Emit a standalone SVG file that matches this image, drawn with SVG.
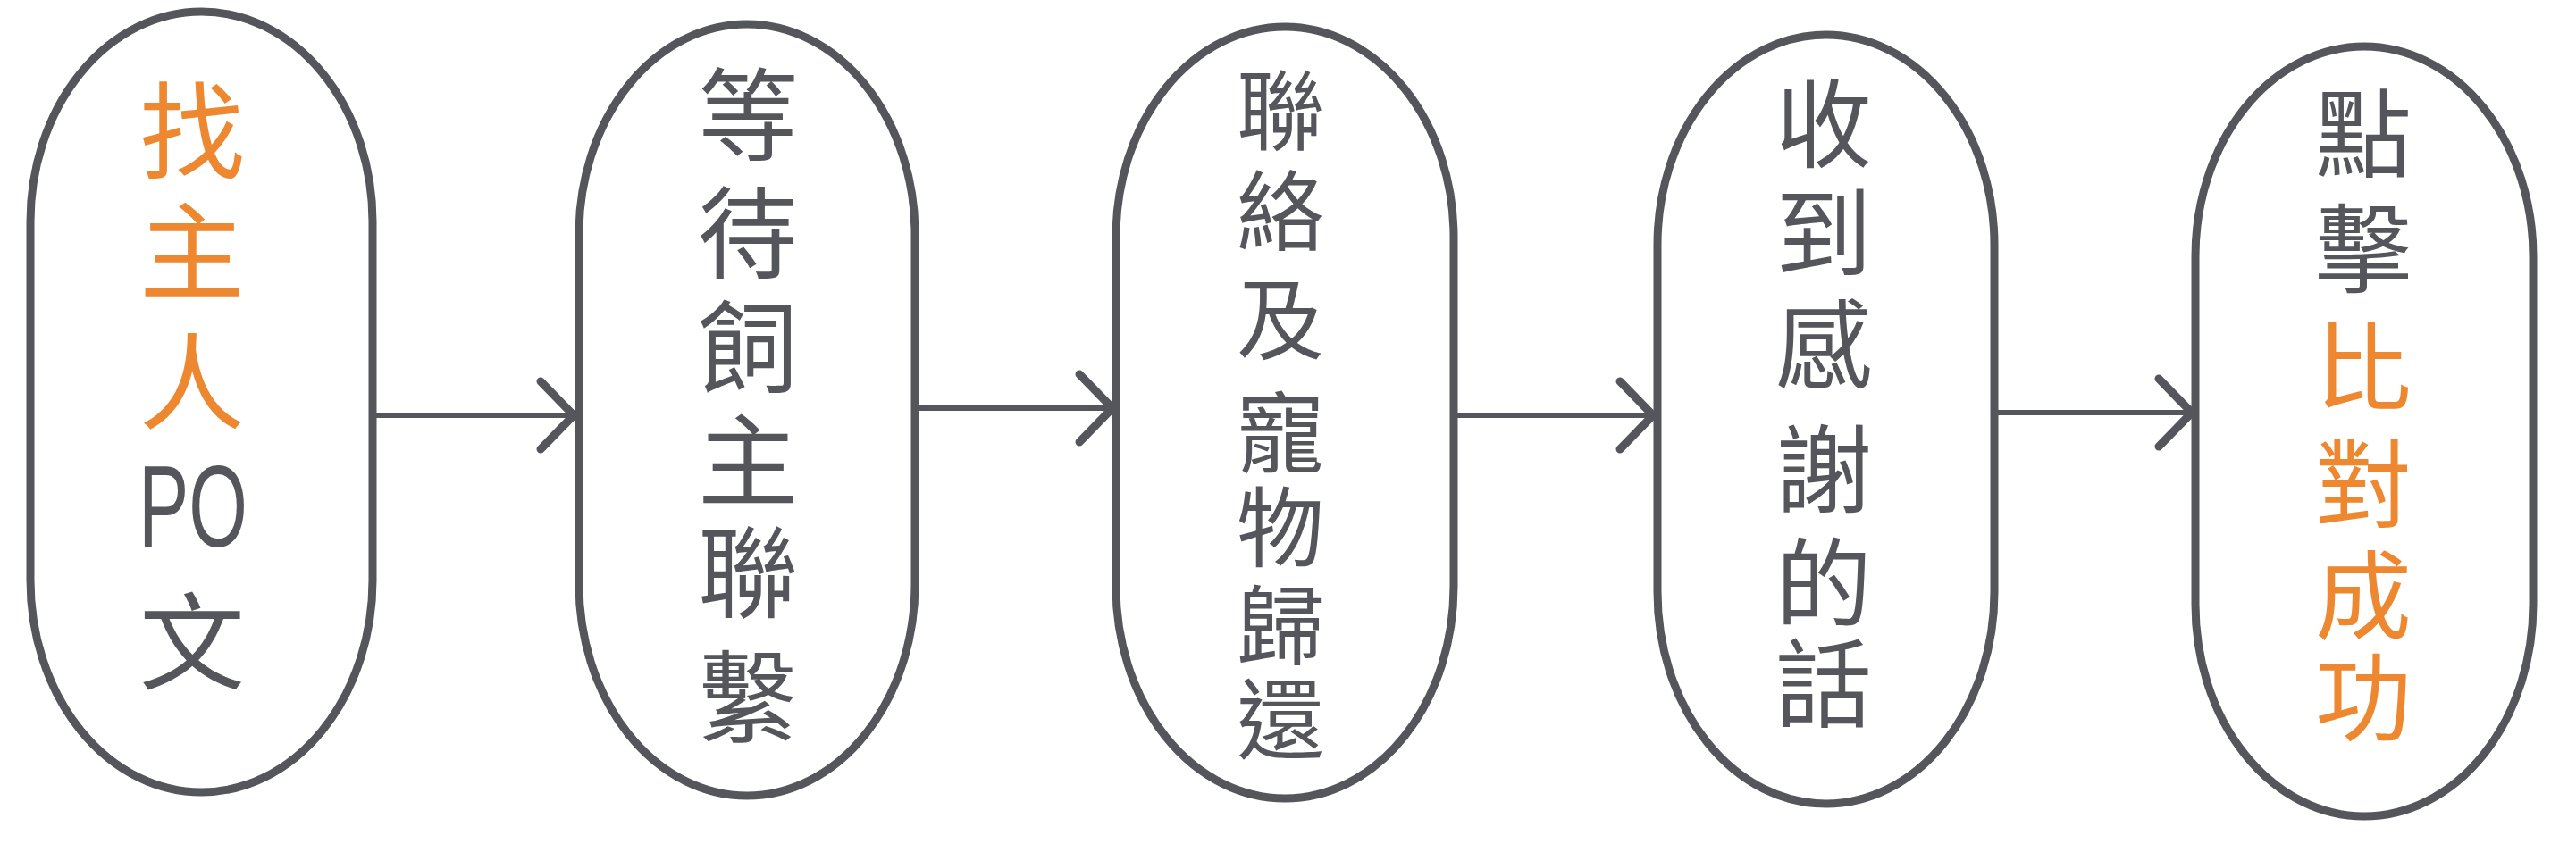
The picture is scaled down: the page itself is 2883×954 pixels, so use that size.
<svg xmlns="http://www.w3.org/2000/svg" width="2883" height="954" viewBox="0 0 2883 954">
<style>
.node{fill:#ffffff;stroke:#55565b;stroke-width:9}
.v{font-family:"Noto Sans CJK TC","Noto Sans CJK SC",sans-serif;writing-mode:vertical-rl;fill:#55565b}
.h{font-family:"Liberation Sans","Noto Sans CJK TC",sans-serif;text-anchor:middle;fill:#55565b}
.o{fill:#ee8830}
.s1{font-size:118px}
.s2{font-size:112px}
.s3{font-size:98px}
.s4{font-size:108px}
.conn{stroke:#55565b;stroke-width:6;fill:none;stroke-linecap:round}
</style>
<defs>
<marker id="arr" markerUnits="userSpaceOnUse" viewBox="-45 -45 55 90" markerWidth="55" markerHeight="90" refX="0" refY="0" orient="auto" overflow="visible">
<path d="M -37 -38 L 0 0 L -37 38" fill="none" stroke="#55565b" stroke-width="9" stroke-linecap="round" stroke-linejoin="round"/>
</marker>
</defs>
<rect width="2883" height="954" fill="#ffffff"/>
<g id="connectors">
<path class="conn" d="M 421 465 L 642 465" marker-end="url(#arr)"/>
<path class="conn" d="M 1030 457 L 1245 457" marker-end="url(#arr)"/>
<path class="conn" d="M 1632 465 L 1850 465" marker-end="url(#arr)"/>
<path class="conn" d="M 2236 462 L 2453 462" marker-end="url(#arr)"/>
</g>
<g id="node1">
<path class="node" d="M 34 248 A 191.5 235 0 0 1 417 248 L 417 650 A 191.5 237 0 0 1 34 650 Z"/>
<text class="v o s1" x="215" y="87">找</text>
<text class="v o s1" x="215" y="222">主</text>
<text class="v o s1" x="215" y="368">人</text>
<text class="h" x="216" y="612" font-size="130" textLength="122" lengthAdjust="spacingAndGlyphs">PO</text>
<text class="v s1" x="215" y="659">文</text>
</g>
<g id="node2">
<path class="node" d="M 648 262 A 188 235 0 0 1 1024 262 L 1024 654 A 188 237 0 0 1 648 654 Z"/>
<text class="v s2" x="837" y="72">等</text>
<text class="v s2" x="837" y="204">待</text>
<text class="v s2" x="837" y="332">飼</text>
<text class="v s2" x="837" y="459">主</text>
<text class="v s2" x="837" y="584">聯</text>
<text class="v s2" x="837" y="724">繫</text>
</g>
<g id="node3">
<path class="node" d="M 1249 265 A 189 235 0 0 1 1627 265 L 1627 657 A 189 237 0 0 1 1249 657 Z"/>
<text class="v s3" x="1433" y="74">聯</text>
<text class="v s3" x="1433" y="187">絡</text>
<text class="v s3" x="1433" y="308">及</text>
<text class="v s3" x="1433" y="435">寵</text>
<text class="v s3" x="1433" y="541">物</text>
<text class="v s3" x="1433" y="651">歸</text>
<text class="v s3" x="1433" y="756">還</text>
</g>
<g id="node4">
<path class="node" d="M 1855 274 A 188.5 235 0 0 1 2232 274 L 2232 663 A 188.5 237 0 0 1 1855 663 Z"/>
<text class="v s4" x="2041" y="84">收</text>
<text class="v s4" x="2041" y="206">到</text>
<text class="v s4" x="2041" y="331">感</text>
<text class="v s4" x="2041" y="471">謝</text>
<text class="v s4" x="2041" y="598">的</text>
<text class="v s4" x="2041" y="711">話</text>
</g>
<g id="node5">
<path class="node" d="M 2457 287 A 189 235 0 0 1 2835 287 L 2835 677 A 189 237 0 0 1 2457 677 Z"/>
<text class="v s4" x="2645" y="95">點</text>
<text class="v s4" x="2645" y="224">擊</text>
<text class="v s4 o" x="2645" y="356">比</text>
<text class="v s4 o" x="2645" y="487">對</text>
<text class="v s4 o" x="2645" y="612">成</text>
<text class="v s4 o" x="2645" y="726">功</text>
</g>
</svg>
